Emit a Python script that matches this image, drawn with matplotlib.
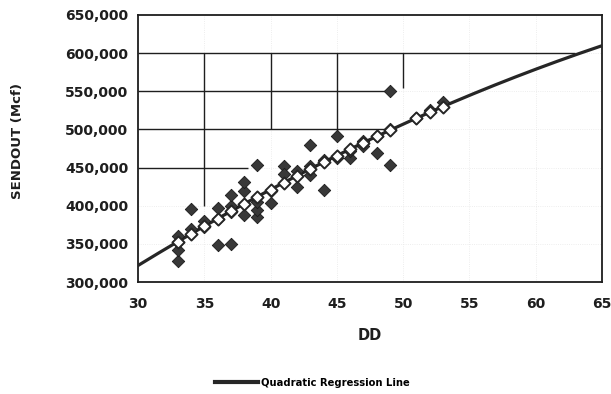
#! /usr/bin/env python3

'''
Daily sendout vs degree days, with a quadratic regression fit
'''

import numpy as np
import matplotlib.pyplot as plt
from matplotlib.ticker import FuncFormatter

# observed days: degree days and sendout (Mcf)
dd = [33, 33, 33, 33, 34, 34, 35, 35, 36, 36, 36, 37, 37, 37, 37,
      38, 38, 38, 39, 39, 39, 39, 40, 40, 41, 41, 42, 42, 43, 43, 43,
      44, 44, 45, 45, 46, 46, 47, 47, 48, 48, 49, 49, 49, 51, 52, 53]
sendout = [328000, 342000, 352000, 360000, 396000, 370000, 372000, 380000,
           348000, 397000, 383000, 350000, 392000, 400000, 414000,
           388000, 420000, 431000, 454000, 385000, 395000, 405000,
           404000, 420000, 452000, 441000, 424000, 446000, 479000, 440000, 452000,
           421000, 460000, 492000, 463000, 462000, 472000, 478000, 485000,
           469000, 491000, 551000, 453000, 500000, 515000, 525000, 536000]

x_ticks = [30, 35, 40, 45, 50, 55, 60, 65]
y_ticks = [300000, 350000, 400000, 450000, 500000, 550000, 600000, 650000]

# partial grid lines: (value, start, end)
h_grid = [(600000, 30, 63), (550000, 30, 49.3), (500000, 30, 49.3), (450000, 30, 38.3)]
v_grid = [(35, 400000, 600000), (40, 500000, 600000), (45, 495000, 600000), (50, 554000, 600000)]

INK = '#1e1e1e'


def main():
    fig = plt.figure(figsize=(6.11, 3.94), dpi=100)
    ax = fig.add_axes([0.226, 0.284, 0.759, 0.678])

    coef = np.polyfit(dd, sendout, 2)
    fit = np.poly1d(coef)
    xs = np.linspace(30, 65, 200)
    fit_dd = sorted(set(dd))

    ax.grid(True, color='#e8e8e8', linestyle=':', linewidth=0.6, zorder=0)
    for y, x0, x1 in h_grid:
        ax.hlines(y, x0, x1, color=INK, linewidth=1.0, zorder=2)
    for x, y0, y1 in v_grid:
        ax.vlines(x, y0, y1, color=INK, linewidth=1.0, zorder=2)

    ax.plot(xs, fit(xs), color='#262626', linewidth=2.3, zorder=3,
            label='Quadratic Regression Line')
    ax.scatter(dd, sendout, marker='D', s=40, color='#383838',
               edgecolor='#1a1a1a', linewidth=0.6, zorder=4)
    ax.scatter(fit_dd, fit(fit_dd), marker='D', s=38, facecolor='white',
               edgecolor='#262626', linewidth=1.4, zorder=5)

    ax.set_xlim(30, 65)
    ax.set_ylim(300000, 650000)
    ax.set_xticks(x_ticks)
    ax.set_yticks(y_ticks)
    ax.yaxis.set_major_formatter(FuncFormatter(lambda v, p: f'{int(v):,}'))
    ax.tick_params(length=0, labelsize=10)
    ax.tick_params(axis='x', pad=11)
    ax.tick_params(axis='y', pad=7)
    for lab in ax.get_xticklabels() + ax.get_yticklabels():
        lab.set_fontweight('bold')
        lab.set_color(INK)
    for s in ax.spines.values():
        s.set_linewidth(1.3)
        s.set_color(INK)

    ax.set_xlabel('DD', fontsize=10.5, fontweight='bold', color=INK, labelpad=12)
    ax.set_ylabel('SENDOUT (Mcf)', fontsize=9.5, fontweight='bold', color=INK)
    ax.yaxis.set_label_coords(-0.245, 0.53)

    leg = fig.legend(loc='center', bbox_to_anchor=(0.511, 0.028), frameon=False,
                     prop={'size': 7.2, 'weight': 'bold'}, handlelength=4.3,
                     handletextpad=0.3)
    leg.get_lines()[0].set_linewidth(3)

    fig.savefig('out.png', dpi=100)


if __name__ == '__main__':
    plt.rcParams['font.family'] = ['DejaVu Sans']
    main()
